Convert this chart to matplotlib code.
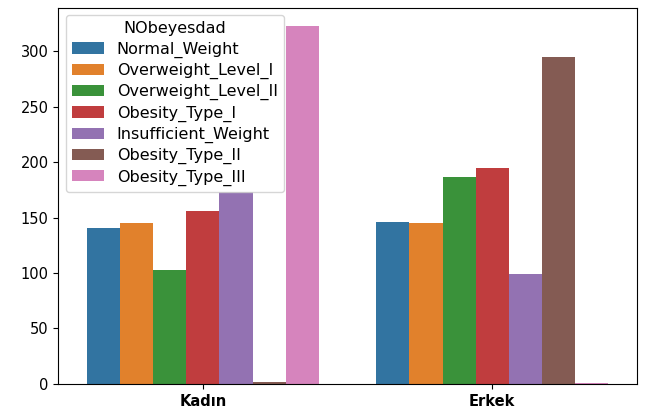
import matplotlib
matplotlib.use("Agg")
import matplotlib.pyplot as plt
import numpy as np

categories = ["Kadın", "Erkek"]
hue_levels = ["Normal_Weight", "Overweight_Level_I", "Overweight_Level_II",
              "Obesity_Type_I", "Insufficient_Weight", "Obesity_Type_II", "Obesity_Type_III"]
counts_kadin = [141, 145, 103, 156, 173, 2, 323]
counts_erkek = [146, 145, 187, 195, 99, 295, 1]
colors = ["#3274a1", "#e1812c", "#3a923a", "#c03d3e", "#9372b2", "#845b53", "#d684bd"]

plt.rcParams['font.family'] = ['DejaVu Sans']
fig = plt.figure(figsize=(6.49, 4.15), dpi=100)
ax = fig.add_axes([0.090, 0.075, 0.891, 0.906])

n = len(hue_levels)
w = 0.8 / n
x = np.arange(len(categories))
for i, (lvl, c) in enumerate(zip(hue_levels, colors)):
    vals = [counts_kadin[i], counts_erkek[i]]
    ax.bar(x - 0.4 + w * (i + 0.5), vals, width=w, color=c, label=lvl)

ax.set_xticks(x)
ax.set_xticklabels(categories, fontweight='bold', fontsize=10.5)
ax.tick_params(axis='y', labelsize=10.5)
ax.set_xlim(-0.5, 1.5)
ax.set_ylim(0, 339.15)
ax.set_yticks([0, 50, 100, 150, 200, 250, 300])
leg = ax.legend(title="NObeyesdad", loc="upper left", fontsize=11.5, title_fontsize=11.5,
                labelspacing=0.32, borderaxespad=0.45)
fig.savefig("out.png", dpi=100)
